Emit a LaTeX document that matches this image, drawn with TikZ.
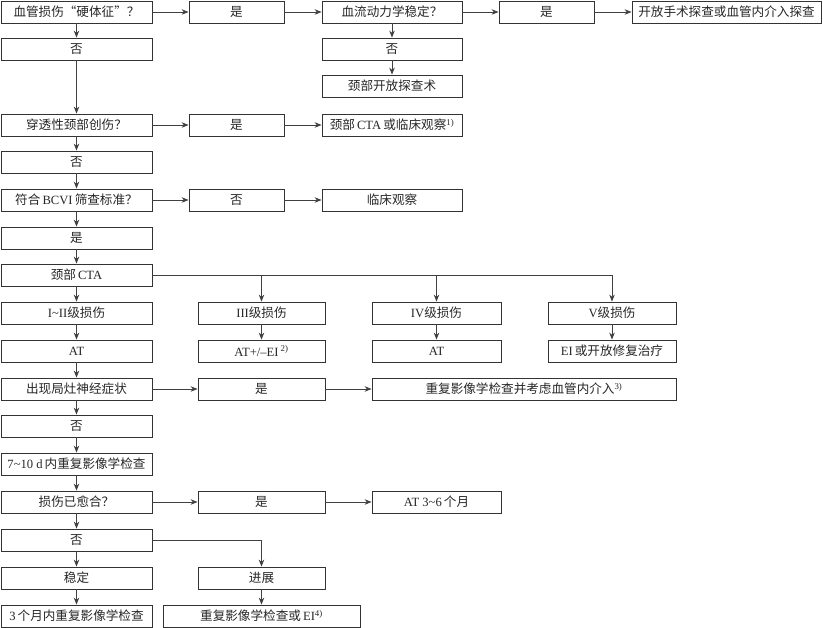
\documentclass[tikz,border=0pt]{standalone}
\usepackage{fontspec}
\setmainfont{Liberation Serif}
\newfontfamily\cjk{Noto Sans CJK SC}
\newcommand{\zh}[1]{{\cjk #1}}
\usetikzlibrary{arrows.meta}

\begin{document}
\begin{tikzpicture}[x=1pt, y=-1pt, line width=0.85pt,
  box/.style={rectangle, draw=black!80, inner sep=0pt, minimum height=22pt, minimum width=#1, font=\fontsize{12.6pt}{14pt}\selectfont, text=black!85},
  box/.default=151pt,
  arr/.style={-{Stealth[length=7pt,width=5.5pt]}, draw=black!75}]
  \useasboundingbox (0,0) rectangle (823,628);

  % top block
  \node[box] (hard) at (76.5,12) {\zh{血管损伤“硬体征”？}};
  \node[box=95pt] (yes1) at (236.5,12) {\zh{是}};
  \node[box=140pt] (stable) at (392,12) {\zh{血流动力学稳定？}};
  \node[box=95pt] (yes2) at (546.5,12) {\zh{是}};
  \node[box=189pt] (openx) at (726.5,12) {\zh{开放手术探查或血管内介入探查}};
  \node[box] (no1) at (76.5,49) {\zh{否}};
  \node[box=140pt] (no2) at (392,49) {\zh{否}};
  \node[box=140pt] (neckx) at (392,86) {\zh{颈部开放探查术}};
  \node[box] (pen) at (76.5,125) {\zh{穿透性颈部创伤？}};
  \node[box=95pt] (yes3) at (236.5,125) {\zh{是}};
  \node[box=140pt] (ctaobs) at (392,125) {\zh{颈部}\,CTA\,\zh{或临床观察}\textsuperscript{1)}};
  \node[box] (no3) at (76.5,162) {\zh{否}};
  \node[box] (bcvi) at (76.5,200) {\zh{符合}\,BCVI\,\zh{筛查标准？}};
  \node[box=95pt] (no4) at (236.5,200) {\zh{否}};
  \node[box=140pt] (clin) at (392,200) {\zh{临床观察}};
  \node[box] (yes4) at (76.5,238) {\zh{是}};
  \node[box] (cta) at (76.5,275) {\zh{颈部}\,CTA};

  % injury grades
  \node[box] (g12) at (76.5,313) {I\textasciitilde II\zh{级损伤}};
  \node[box=127pt] (g3) at (261.5,313) {III\zh{级损伤}};
  \node[box=129pt] (g4) at (436.5,313) {IV\zh{级损伤}};
  \node[box=128pt] (g5) at (612,313) {V\zh{级损伤}};
  \node[box] (at12) at (76.5,351) {AT};
  \node[box=127pt] (at3) at (261.5,351) {AT+/–EI\,\textsuperscript{2)}};
  \node[box=129pt] (at4) at (436.5,351) {AT};
  \node[box=128pt] (ei5) at (612,351) {EI\,\zh{或开放修复治疗}};

  % follow-up
  \node[box] (focal) at (76.5,389) {\zh{出现局灶神经症状}};
  \node[box=127pt] (yes5) at (261.5,389) {\zh{是}};
  \node[box=304pt] (reimg) at (524,389) {\zh{重复影像学检查并考虑血管内介入}\textsuperscript{3)}};
  \node[box] (no5) at (76.5,426) {\zh{否}};
  \node[box] (rep) at (76.5,464) {7\textasciitilde10 d\,\zh{内重复影像学检查}};
  \node[box] (healed) at (76.5,502) {\zh{损伤已愈合？}};
  \node[box=127pt] (yes6) at (261.5,502) {\zh{是}};
  \node[box=129pt] (at36) at (436.5,502) {AT 3\textasciitilde6\,\zh{个月}};
  \node[box] (no6) at (76.5,540) {\zh{否}};
  \node[box] (stab) at (76.5,578) {\zh{稳定}};
  \node[box=127pt] (prog) at (261.5,578) {\zh{进展}};
  \node[box] (m3) at (76.5,616) {3\,\zh{个月内重复影像学检查}};
  \node[box=197pt] (reei) at (261.5,616) {\zh{重复影像学检查或}\,EI\textsuperscript{4)}};

  \draw[arr] (hard) -- (yes1);
  \draw[arr] (yes1) -- (stable);
  \draw[arr] (stable) -- (yes2);
  \draw[arr] (yes2) -- (openx);
  \draw[arr] (hard) -- (no1);
  \draw[arr] (no1) -- (pen);
  \draw[arr] (stable) -- (no2);
  \draw[arr] (no2) -- (neckx);
  \draw[arr] (pen) -- (yes3);
  \draw[arr] (yes3) -- (ctaobs);
  \draw[arr] (pen) -- (no3);
  \draw[arr] (no3) -- (bcvi);
  \draw[arr] (bcvi) -- (no4);
  \draw[arr] (no4) -- (clin);
  \draw[arr] (bcvi) -- (yes4);
  \draw[arr] (yes4) -- (cta);

  \draw[arr] (cta) -- (g12);
  \draw[arr] (cta.east) -| (g5);
  \draw[arr] (cta.east -| g3.north) -- (g3);
  \draw[arr] (cta.east -| g4.north) -- (g4);
  \draw[arr] (g12) -- (at12);
  \draw[arr] (g3) -- (at3);
  \draw[arr] (g4) -- (at4);
  \draw[arr] (g5) -- (ei5);

  \draw[arr] (at12) -- (focal);
  \draw[arr] (focal) -- (yes5);
  \draw[arr] (yes5) -- (reimg);
  \draw[arr] (focal) -- (no5);
  \draw[arr] (no5) -- (rep);
  \draw[arr] (rep) -- (healed);
  \draw[arr] (healed) -- (yes6);
  \draw[arr] (yes6) -- (at36);
  \draw[arr] (healed) -- (no6);
  \draw[arr] (no6) -- (stab);
  \draw[arr] (no6.east) -| (prog);
  \draw[arr] (stab) -- (m3);
  \draw[arr] (prog) -- (reei);
\end{tikzpicture}
\end{document}
